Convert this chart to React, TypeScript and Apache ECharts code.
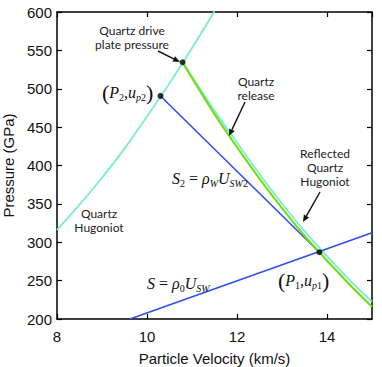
import React, { useEffect, useRef } from 'react';
import * as echarts from 'echarts';

// Quartz Hugoniot (principal)
const hugoniotU = [8, 8.5, 9, 9.5, 10, 10.5, 11, 11.5];
const hugoniotP = [316, 349, 384, 422, 464, 507, 553, 601];
// Quartz release
const releaseU = [10.79, 11, 11.5, 12, 12.5, 13, 13.5, 13.83, 14, 14.5, 15];
const releaseP = [534.5, 514, 467, 424, 383, 344.5, 308.5, 287, 276, 245, 216];
// Reflected quartz Hugoniot
const reflectedU = [10.79, 11, 11.5, 12, 12.5, 13, 13.5, 14, 14.5, 15];
const reflectedP = [534.5, 516, 471.5, 430, 389, 350.5, 314.5, 282, 251, 222.5];
// Rayleigh lines
const s2U = [10.3, 13.83];
const s2P = [490.6, 287];
const sU = [9.62, 15];
const sP = [200, 312.5];
// Marked states: drive plate, (P2,up2), (P1,up1)
const pointU = [10.79, 10.3, 13.83];
const pointP = [534.5, 490.6, 287];

const xMin = 8, xMax = 15, xStep = 2;
const yMin = 200, yMax = 600, yStep = 50;

const CYAN = '#7ceccf';
const GREEN = '#77dd1c';
const BLUE = '#3050ea';

const zip = (a: number[], b: number[]) => a.map((v, i) => [v, b[i]]);

function arrow(x1: number, y1: number, x2: number, y2: number) {
  const dx = x2 - x1, dy = y2 - y1;
  const L = Math.sqrt(dx * dx + dy * dy);
  const ux = dx / L, uy = dy / L;
  const hl = 7, hw = 3;
  const bx = x2 - ux * hl, by = y2 - uy * hl;
  return [
    { type: 'line', shape: { x1, y1, x2: bx, y2: by }, style: { stroke: '#111', lineWidth: 1.4 }, z: 100 },
    {
      type: 'polygon',
      shape: { points: [[x2, y2], [bx - uy * hw, by + ux * hw], [bx + uy * hw, by - ux * hw]] },
      style: { fill: '#111' },
      z: 100,
    },
  ];
}

const SERIF = 'Liberation Serif';
const mathRich = {
  i: { fontFamily: SERIF, fontStyle: 'italic', fontSize: 16, lineHeight: 20, fill: '#111' },
  r: { fontFamily: SERIF, fontSize: 16, lineHeight: 20, fill: '#111' },
  si: { fontFamily: SERIF, fontStyle: 'italic', fontSize: 10, lineHeight: 8, verticalAlign: 'bottom', fill: '#111' },
  sr: { fontFamily: SERIF, fontSize: 10, lineHeight: 8, verticalAlign: 'bottom', fill: '#111' },
  p: { fontFamily: SERIF, fontSize: 22, lineHeight: 20, fill: '#111' },
};

function mathText(x: number, y: number, text: string) {
  return {
    type: 'text',
    x,
    y,
    z: 100,
    style: { text, rich: mathRich, align: 'left', verticalAlign: 'middle', fill: '#111' },
  };
}

const ANN_FONT = 'Lato';
function noteText(x: number, y: number, text: string) {
  return {
    type: 'text',
    x,
    y,
    z: 100,
    style: {
      text,
      fontFamily: ANN_FONT,
      fontSize: 12,
      lineHeight: 14,
      fill: '#222',
      align: 'center',
      verticalAlign: 'middle',
    },
  };
}

export default function App() {
  const ref = useRef<HTMLDivElement>(null);
  useEffect(() => {
    if (!ref.current) return;
    const chart = echarts.init(ref.current, undefined, { renderer: 'svg' });
    const axisLine = { show: true, lineStyle: { color: '#000', width: 1.5 } };
    const tick = { show: true, inside: true, length: 5, lineStyle: { color: '#000', width: 1.2 } };
    const labelFont = { fontFamily: 'Liberation Sans', fontSize: 15, color: '#111' };
    chart.setOption({
      animation: false,
      backgroundColor: '#fff',
      grid: { left: 57, top: 12, right: 10, bottom: 48, containLabel: false, outerBoundsMode: 'none' },
      xAxis: [
        {
          type: 'value', min: xMin, max: xMax, interval: xStep,
          axisLine, axisTick: tick, splitLine: { show: false },
          axisLabel: { ...labelFont, margin: 10, showMaxLabel: false },
          name: 'Particle Velocity (km/s)', nameLocation: 'middle', nameGap: 32,
          nameTextStyle: { ...labelFont },
        },
        {
          type: 'value', position: 'top', min: xMin, max: xMax, interval: xStep,
          axisLine, axisTick: tick, splitLine: { show: false }, axisLabel: { show: false },
        },
      ],
      yAxis: [
        {
          type: 'value', min: yMin, max: yMax, interval: yStep,
          axisLine, axisTick: tick, splitLine: { show: false },
          axisLabel: { ...labelFont, margin: 5 },
          name: 'Pressure (GPa)', nameLocation: 'middle', nameGap: 37,
          nameTextStyle: { ...labelFont },
        },
        {
          type: 'value', position: 'right', min: yMin, max: yMax, interval: yStep,
          axisLine, axisTick: tick, splitLine: { show: false }, axisLabel: { show: false },
        },
      ],
      series: [
        { type: 'line', name: 'Quartz Hugoniot', data: zip(hugoniotU, hugoniotP), smooth: 0.3, showSymbol: false, lineStyle: { color: CYAN, width: 1.8 }, z: 2 },
        { type: 'line', name: 'Reflected Quartz Hugoniot', data: zip(reflectedU, reflectedP), smooth: 0.3, showSymbol: false, lineStyle: { color: CYAN, width: 1.8 }, z: 2 },
        { type: 'line', name: 'S2', data: zip(s2U, s2P), showSymbol: false, lineStyle: { color: BLUE, width: 1.6 }, z: 3 },
        { type: 'line', name: 'Quartz release', data: zip(releaseU, releaseP), smooth: 0.3, showSymbol: false, lineStyle: { color: GREEN, width: 2.2 }, z: 4 },
        { type: 'line', name: 'S', data: zip(sU, sP), showSymbol: false, lineStyle: { color: BLUE, width: 1.6 }, z: 3 },
        { type: 'scatter', data: zip(pointU, pointP), symbolSize: 6, itemStyle: { color: '#000' }, z: 10 },
      ],
      graphic: [
        noteText(132, 37, 'Quartz drive\nplate pressure'),
        ...arrow(158, 51, 180, 62),
        noteText(256, 88, 'Quartz\nrelease'),
        ...arrow(245, 102, 229, 136),
        noteText(325, 167, 'Reflected\nQuartz\nHugoniot'),
        ...arrow(320, 192, 303, 222),
        noteText(99, 220, 'Quartz\nHugoniot'),
        mathText(102, 92, '{p|(}{i|P}{sr|2}{r|,}{i|u}{si|p}{sr|2}{p|)}'),
        mathText(172, 178, '{i|S}{sr|2}{r| = }{i|ρ}{si|W}{i|U}{si|SW}{sr|2}'),
        mathText(147, 283, '{i|S}{r| = }{i|ρ}{sr|0}{i|U}{si|SW}'),
        mathText(278, 280, '{p|(}{i|P}{sr|1}{r|,}{i|u}{si|p}{sr|1}{p|)}'),
      ],
    });
    return () => chart.dispose();
  }, []);
  return <div ref={ref} style={{ position: 'absolute', left: 0, top: 0, width: 382, height: 367 }} />;
}
